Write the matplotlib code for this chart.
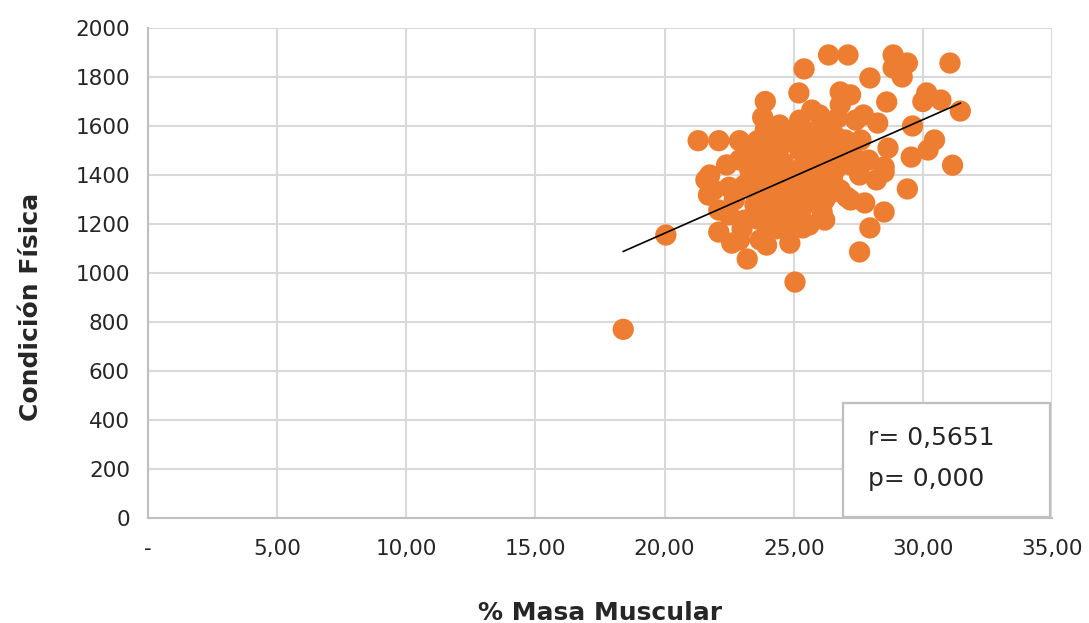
import numpy as np
import matplotlib
matplotlib.use("Agg")
import matplotlib.pyplot as plt
from matplotlib.patches import Rectangle
from matplotlib.ticker import FuncFormatter

# % masa muscular vs condicion fisica
masa_muscular = [
    18.4, 20.05, 21.3, 22.1, 22.9, 23.6, 21.75, 21.6, 21.7, 22.5,
    23.4, 22.1, 22.6, 23.2, 23.95, 24.85, 25.05, 25.35, 26.1, 23.9,
    23.8, 24.45, 25.2, 25.4, 26.35, 27.1, 26.8, 27.95, 28.85, 28.85,
    29.4, 29.2, 31.05, 28.6, 30.15, 30.0, 30.7, 31.45, 27.7, 28.25,
    29.6, 28.65, 29.55, 30.45, 30.2, 31.15, 28.5, 28.5, 28.2, 29.4,
    27.05, 27.75, 28.5, 27.95, 27.55, 25.55, 26.15, 26.6, 23.3, 23.76,
    24.27, 24.85, 25.23, 25.6, 26.4, 26.7, 27.0, 27.4, 27.6, 26.0,
    26.6, 27.2, 27.55, 27.9, 23.1, 23.7, 24.1, 24.46, 25.0, 25.4,
    25.8, 26.2, 26.8, 27.2, 22.5, 23.1, 23.5, 24.0, 24.65, 25.0,
    25.6, 26.2, 22.9, 23.7, 24.85, 22.7, 22.1, 21.9, 24.3, 23.9,
    22.9, 22.4, 25.23, 25.7, 26.0, 26.8, 27.2, 25.0, 24.46, 25.4,
    23.9, 23.3, 26.2, 25.8, 24.85, 24.27, 26.5, 25.9, 24.6, 27.3,
    24.6, 25.2, 25.8, 24.0, 24.5, 25.5, 26.3, 26.9, 24.2, 23.6,
    24.3, 25.3, 25.9, 26.5, 25.0, 24.0, 23.4, 26.6, 25.6, 24.8,
    23.0,
]
condicion_fisica = [
    770, 1155, 1540, 1540, 1540, 1540, 1400, 1380, 1318, 1350,
    1400, 1167, 1122, 1057, 1114, 1122, 963, 1184, 1249, 1700,
    1635, 1604, 1735, 1833, 1890, 1890, 1739, 1796, 1890, 1837,
    1857, 1800, 1857, 1698, 1735, 1700, 1706, 1661, 1645, 1612,
    1600, 1510, 1473, 1543, 1502, 1440, 1433, 1412, 1380, 1343,
    1310, 1286, 1249, 1184, 1086, 1576, 1600, 1560, 1500, 1440,
    1481, 1543, 1502, 1563, 1584, 1633, 1543, 1624, 1543, 1461,
    1420, 1441, 1400, 1461, 1359, 1318, 1257, 1359, 1400, 1318,
    1359, 1298, 1339, 1298, 1237, 1216, 1278, 1176, 1216, 1257,
    1196, 1216, 1135, 1135, 1298, 1298, 1257, 1339, 1543, 1584,
    1461, 1441, 1624, 1665, 1645, 1686, 1727, 1584, 1420, 1441,
    1379, 1420, 1522, 1502, 1359, 1318, 1380, 1420, 1270, 1480,
    1450, 1420, 1440, 1480, 1520, 1480, 1460, 1480, 1300, 1220,
    1180, 1260, 1300, 1330, 1340, 1400, 1340, 1500, 1380, 1180,
    1180,
]

# linear trendline as drawn (Excel), from min to max x
trend_x = [18.4, 31.45]
trend_y = [1088, 1693]

r_text = "r= 0,5651"
p_text = "p= 0,000"

x_ticks = [0, 5, 10, 15, 20, 25, 30, 35]
y_ticks = [0, 200, 400, 600, 800, 1000, 1200, 1400, 1600, 1800, 2000]

orange = "#ED7D31"
grid_col = "#D9D9D9"
text_col = "#262626"

fig = plt.figure(figsize=(10.89, 6.23), dpi=100)
ax = fig.add_axes([148 / 1089, 1 - 518 / 623, 904 / 1089, 490 / 623])

ax.scatter(masa_muscular, condicion_fisica, s=235, color=orange, edgecolors="none", zorder=3)
ax.plot(trend_x, trend_y, color="black", linewidth=1.2, zorder=4)

ax.set_xlim(0, 35)
ax.set_ylim(0, 2000)
ax.set_xticks(x_ticks)
ax.set_yticks(y_ticks)
ax.xaxis.set_major_formatter(FuncFormatter(lambda v, p: "-" if v == 0 else f"{v:.2f}".replace(".", ",")))

ax.grid(True, color=grid_col, linewidth=1.5, zorder=0)
ax.set_axisbelow(True)
for s in ["top", "right"]:
    ax.spines[s].set_visible(False)
for s in ["left", "bottom"]:
    ax.spines[s].set_color("#BFBFBF")
    ax.spines[s].set_linewidth(1.5)

ax.tick_params(axis="both", length=0, labelsize=15.5, colors=text_col)
ax.tick_params(axis="x", pad=15)
ax.tick_params(axis="y", pad=13)

ax.set_xlabel("% Masa Muscular", fontsize=18, fontweight="bold", color=text_col, labelpad=30)
ax.set_ylabel("Condición Física", fontsize=18, fontweight="bold", color=text_col)
ax.yaxis.set_label_coords(-0.116, 0.43)

# stats box
ax.add_patch(Rectangle((0.769, 0.002), 0.229, 0.233, transform=ax.transAxes,
                       facecolor="white", edgecolor="#BFBFBF", linewidth=1.6, zorder=5))
ax.text(0.796, 0.163, r_text, transform=ax.transAxes, fontsize=18, color=text_col,
        va="center", ha="left", zorder=6)
ax.text(0.796, 0.08, p_text, transform=ax.transAxes, fontsize=18, color=text_col,
        va="center", ha="left", zorder=6)

fig.savefig("out.png", dpi=100)
